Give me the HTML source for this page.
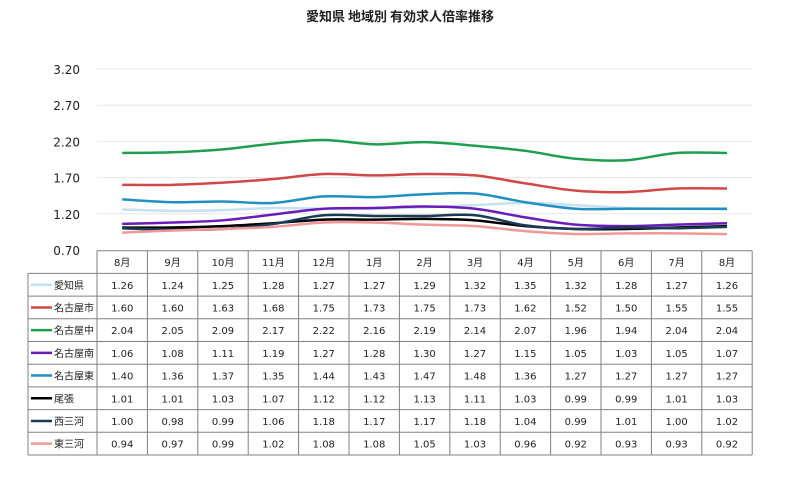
<!DOCTYPE html>
<html><head><meta charset="utf-8"><style>
body{margin:0;background:#fff;}
text{font-family:"DejaVu Sans","Liberation Sans","Noto Sans CJK JP",sans-serif;}
</style></head><body>
<svg id="s" width="800" height="491" xmlns="http://www.w3.org/2000/svg">
<text x="400" y="21" text-anchor="middle" font-size="13" font-weight="bold" fill="#222" style="font-family:'Noto Sans CJK JP',sans-serif">愛知県 地域別 有効求人倍率推移</text>
<g id="g"></g>
</svg>
<script>
(function(){
const ns="http://www.w3.org/2000/svg",g=document.getElementById('g');
function el(t,a,txt){const e=document.createElementNS(ns,t);for(const k in a)e.setAttribute(k,a[k]);if(txt!=null)e.textContent=txt;g.appendChild(e);return e;}
const x0=97,cw=50.4,tT=250.7,rh=22.7,y0=250,ppu=72.4;
const Y=v=>y0-(v-0.7)*ppu;
for(let i=0;i<6;i++){const v=0.7+i*0.5,y=Y(v);
 if(i>0)el('line',{x1:x0,x2:752,y1:y,y2:y,stroke:'#e6e6e6','stroke-width':1});
 el('text',{x:80,y:y+5,'text-anchor':'end','font-size':12,fill:'#222'},v.toFixed(2));}
const months=['8月','9月','10月','11月','12月','1月','2月','3月','4月','5月','6月','7月','8月'];
const S=[['愛知県','#c5e0f0',[1.26,1.24,1.25,1.28,1.27,1.27,1.29,1.32,1.35,1.32,1.28,1.27,1.26]],
['名古屋市','#d04848',[1.60,1.60,1.63,1.68,1.75,1.73,1.75,1.73,1.62,1.52,1.50,1.55,1.55]],
['名古屋中','#1f9e50',[2.04,2.05,2.09,2.17,2.22,2.16,2.19,2.14,2.07,1.96,1.94,2.04,2.04]],
['名古屋南','#6a1bb8',[1.06,1.08,1.11,1.19,1.27,1.28,1.30,1.27,1.15,1.05,1.03,1.05,1.07]],
['名古屋東','#2090c0',[1.40,1.36,1.37,1.35,1.44,1.43,1.47,1.48,1.36,1.27,1.27,1.27,1.27]],
['尾張','#000000',[1.01,1.01,1.03,1.07,1.12,1.12,1.13,1.11,1.03,0.99,0.99,1.01,1.03]],
['西三河','#1a3a55',[1.00,0.98,0.99,1.06,1.18,1.17,1.17,1.18,1.04,0.99,1.01,1.00,1.02]],
['東三河','#f09898',[0.94,0.97,0.99,1.02,1.08,1.08,1.05,1.03,0.96,0.92,0.93,0.93,0.92]]];
const cx=i=>x0+cw*(i+0.5);
S.forEach(s=>{const p=s[2].map((v,i)=>[cx(i),Y(v)]);let d='M'+p[0][0]+','+p[0][1];
 for(let i=0;i<p.length-1;i++){const a=p[i-1]||p[i],b=p[i],c=p[i+1],e=p[i+2]||c;
  d+=` C${b[0]+(c[0]-a[0])/6},${b[1]+(c[1]-a[1])/6} ${c[0]-(e[0]-b[0])/6},${c[1]-(e[1]-b[1])/6} ${c[0]},${c[1]}`;}
 el('path',{d:d,fill:'none',stroke:s[1],'stroke-width':2.5});});
const L='#808080';
const bot=tT+rh*9;
el('line',{x1:x0,x2:752,y1:tT,y2:tT,stroke:L});
for(let r=1;r<=9;r++){const y=tT+rh*r;el('line',{x1:28,x2:752,y1:y,y2:y,stroke:L});}
el('line',{x1:28,x2:28,y1:tT+rh,y2:bot,stroke:L});
for(let c=0;c<=13;c++){const x=x0+cw*c;el('line',{x1:x,x2:x,y1:tT,y2:bot,stroke:L});}
months.forEach((m,i)=>el('text',{x:cx(i),y:tT+rh/2+4,'text-anchor':'middle','font-size':10,fill:'#222',style:"font-family:'DejaVu Sans','Noto Sans CJK JP',sans-serif"},m));
S.forEach((s,r)=>{const y=tT+rh*(r+1)+rh/2;
 el('line',{x1:31,x2:52,y1:y,y2:y,stroke:s[1],'stroke-width':2.5});
 el('text',{x:54,y:y+4,'font-size':10,fill:'#222',style:"font-family:'Noto Sans CJK JP',sans-serif"},s[0]);
 s[2].forEach((v,i)=>el('text',{x:cx(i),y:y+4,'text-anchor':'middle','font-size':10,fill:'#222'},v.toFixed(2)));});
})();
</script>
</body></html>
